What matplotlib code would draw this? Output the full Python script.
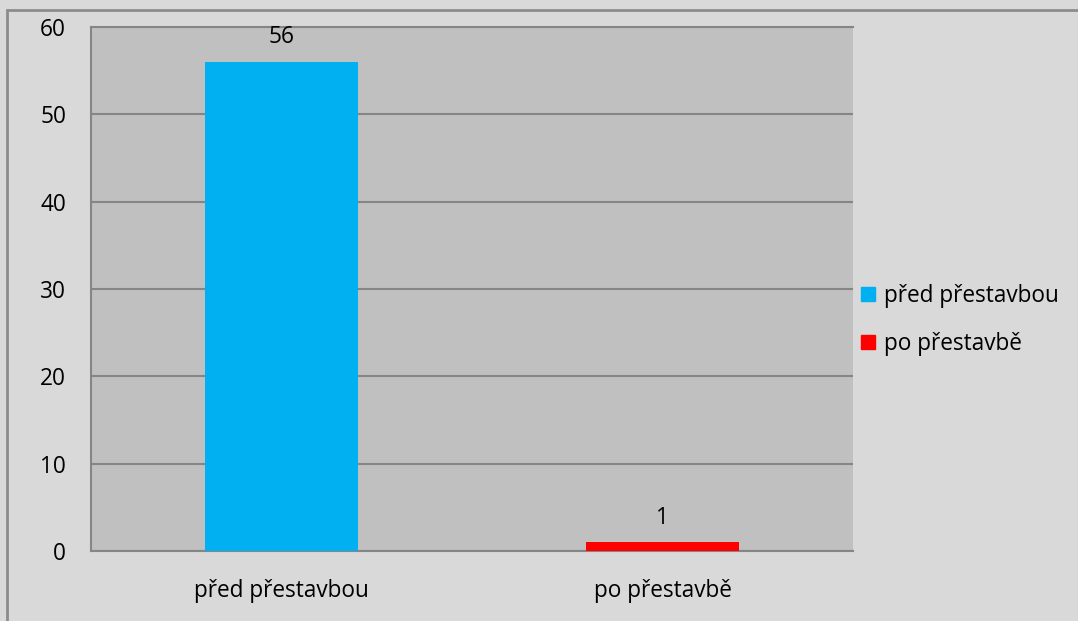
import matplotlib.pyplot as plt
from matplotlib.patches import Rectangle

categories = ['před přestavbou', 'po přestavbě']
values = [56, 1]
colors = ['#00b0f0', '#ff0000']
y_ticks = [0, 10, 20, 30, 40, 50, 60]

plt.rcParams['font.family'] = ['Open Sans', 'DejaVu Sans']
FS = 16.3

W, H = 1078, 621
fig = plt.figure(figsize=(W / 100, H / 100), dpi=100)
fig.patch.set_facecolor('#d9d9d9')

# outer chart border (starts a bit inside the image, runs off right/bottom)
fig.patches.append(Rectangle((7 / W, -0.05), 1.1, 1 - 10 / H + 0.05,
                             transform=fig.transFigure, fill=False,
                             edgecolor='#8c8c8c', linewidth=2, zorder=0))

ax = fig.add_axes([91 / W, 1 - 551 / H, (853 - 91) / W, (551 - 27) / H])
ax.set_facecolor('#c0c0c0')

x = list(range(len(categories)))
bars = ax.bar(x, values, width=0.4, color=colors, zorder=3)
for xi, v in zip(x, values):
    ax.annotate(str(v), (xi, v), xytext=(0, 9), textcoords='offset points',
                ha='center', va='bottom', fontsize=FS, color='black')

ax.set_xlim(-0.5, 1.5)
ax.set_ylim(0, 60)
ax.set_yticks(y_ticks)
ax.set_xticks(x)
ax.set_xticklabels(categories)
ax.tick_params(axis='y', length=0, pad=18, labelsize=FS)
ax.tick_params(axis='x', length=0, pad=20, labelsize=FS)
ax.yaxis.grid(True, color='#868686', linewidth=1.5, zorder=1)
ax.set_axisbelow(True)

ax.spines['right'].set_visible(False)
for side in ['left', 'bottom', 'top']:
    ax.spines[side].set_color('#868686')
    ax.spines[side].set_linewidth(1.5)

handles = [Rectangle((0, 0), 1, 1, color=c) for c in colors]
fig.legend(handles, categories, loc='center left',
           bbox_to_anchor=(841 / W, 1 - 320 / H), frameon=False,
           fontsize=FS, handlelength=0.6, handleheight=0.6,
           handletextpad=0.4, labelspacing=1.05)

fig.savefig('out.png', dpi=100, facecolor=fig.get_facecolor())
